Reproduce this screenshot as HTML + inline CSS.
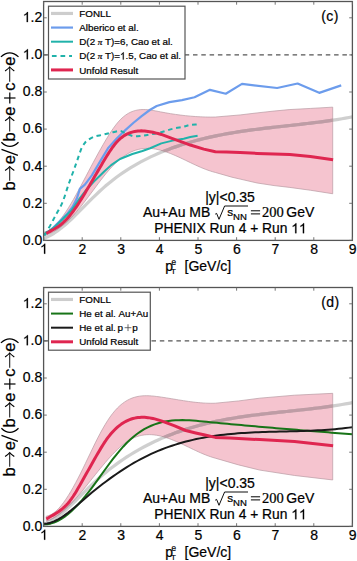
<!DOCTYPE html>
<html><head><meta charset="utf-8"><style>
html,body{margin:0;padding:0;background:#fff;}
svg{display:block;}
text{font-family:"Liberation Sans",sans-serif;fill:#000;font-kerning:none;stroke:#000;stroke-width:0.22px;}
.one{stroke:none;}
.one{fill:transparent;}
.tk{font-size:14px;}
.lg{font-size:9.8px;}
.an{font-size:14px;}
.sub{font-size:9.6px;}
.s12{font-size:11.8px;}
.sub2{font-size:7.9px;}
.sup{font-size:8.2px;}
.ser{font-family:"Liberation Serif",serif;font-size:14.5px;}
.pp{font-size:9.9px;}
.pi{font-family:"Liberation Serif",serif;font-style:italic;font-size:9px;}
.pl{font-size:14px;letter-spacing:0.45px;}
.yl{font-size:16.5px;}
</style></head><body>
<svg width="357" height="561" viewBox="0 0 357 561">
<rect width="357" height="561" fill="#fff"/>
<defs><clipPath id="bctop"><path d="M43.60,232.38 L46.09,231.67 L48.58,230.49 L51.07,228.88 L53.56,226.85 L56.05,224.45 L58.54,221.69 L61.03,218.61 L63.52,215.24 L66.00,211.60 L68.49,207.72 L70.98,203.64 L73.47,199.38 L75.96,194.96 L78.45,190.42 L80.94,185.79 L83.43,181.09 L85.92,176.35 L88.41,171.61 L90.90,166.89 L93.39,162.21 L95.88,157.59 L98.37,153.05 L100.86,148.59 L103.35,144.23 L105.84,139.99 L108.32,135.89 L110.81,131.99 L113.30,128.33 L115.79,124.94 L118.28,121.89 L120.77,119.21 L123.26,116.92 L125.75,114.99 L128.24,113.40 L130.73,112.12 L133.22,111.13 L135.71,110.40 L138.20,109.90 L140.69,109.62 L143.18,109.52 L145.67,109.58 L148.16,109.78 L150.65,110.08 L153.13,110.47 L155.62,110.92 L158.11,111.40 L160.60,111.89 L163.09,112.36 L165.58,112.82 L168.07,113.25 L170.56,113.66 L173.05,114.05 L175.54,114.42 L178.03,114.77 L180.52,115.09 L183.01,115.39 L185.50,115.66 L187.99,115.92 L190.48,116.14 L192.97,116.35 L195.45,116.53 L197.94,116.68 L200.43,116.81 L202.92,116.92 L205.41,116.99 L207.90,117.05 L210.39,117.07 L212.88,117.07 L215.37,117.04 L240.07,114.95 L257.06,112.91 L274.04,111.05 L289.87,109.56 L310.33,108.45 L332.71,107.15 L332.71,193.75 L310.33,190.22 L289.87,187.43 L274.04,185.57 L257.06,182.97 L240.07,179.07 L231.97,177.21 L215.37,172.46 L212.88,171.80 L210.39,171.04 L207.90,170.20 L205.41,169.28 L202.92,168.29 L200.43,167.25 L197.94,166.15 L195.45,165.02 L192.97,163.86 L190.48,162.67 L187.99,161.48 L185.50,160.28 L183.01,159.09 L180.52,157.92 L178.03,156.77 L175.54,155.65 L173.05,154.58 L170.56,153.57 L168.07,152.61 L165.58,151.73 L163.09,150.93 L160.60,150.22 L158.11,149.61 L155.62,149.11 L153.13,148.73 L150.65,148.48 L148.16,148.36 L145.67,148.39 L143.18,148.57 L140.69,148.92 L138.20,149.45 L135.71,150.15 L133.22,151.05 L130.73,152.15 L128.24,153.46 L125.75,154.96 L123.26,156.66 L120.77,158.56 L118.28,160.64 L115.79,162.92 L113.30,165.37 L110.81,168.01 L108.32,170.83 L105.84,173.80 L103.35,176.90 L100.86,180.11 L98.37,183.40 L95.88,186.73 L93.39,190.08 L90.90,193.42 L88.41,196.74 L85.92,200.02 L83.43,203.24 L80.94,206.38 L78.45,209.42 L75.96,212.35 L73.47,215.15 L70.98,217.79 L68.49,220.26 L66.00,222.57 L63.52,224.71 L61.03,226.69 L58.54,228.50 L56.05,230.14 L53.56,231.62 L51.07,232.93 L48.58,234.08 L46.09,235.07 L43.60,235.90 Z"/></clipPath></defs>
<path d="M43.60,232.38 L46.09,231.67 L48.58,230.49 L51.07,228.88 L53.56,226.85 L56.05,224.45 L58.54,221.69 L61.03,218.61 L63.52,215.24 L66.00,211.60 L68.49,207.72 L70.98,203.64 L73.47,199.38 L75.96,194.96 L78.45,190.42 L80.94,185.79 L83.43,181.09 L85.92,176.35 L88.41,171.61 L90.90,166.89 L93.39,162.21 L95.88,157.59 L98.37,153.05 L100.86,148.59 L103.35,144.23 L105.84,139.99 L108.32,135.89 L110.81,131.99 L113.30,128.33 L115.79,124.94 L118.28,121.89 L120.77,119.21 L123.26,116.92 L125.75,114.99 L128.24,113.40 L130.73,112.12 L133.22,111.13 L135.71,110.40 L138.20,109.90 L140.69,109.62 L143.18,109.52 L145.67,109.58 L148.16,109.78 L150.65,110.08 L153.13,110.47 L155.62,110.92 L158.11,111.40 L160.60,111.89 L163.09,112.36 L165.58,112.82 L168.07,113.25 L170.56,113.66 L173.05,114.05 L175.54,114.42 L178.03,114.77 L180.52,115.09 L183.01,115.39 L185.50,115.66 L187.99,115.92 L190.48,116.14 L192.97,116.35 L195.45,116.53 L197.94,116.68 L200.43,116.81 L202.92,116.92 L205.41,116.99 L207.90,117.05 L210.39,117.07 L212.88,117.07 L215.37,117.04 L240.07,114.95 L257.06,112.91 L274.04,111.05 L289.87,109.56 L310.33,108.45 L332.71,107.15 L332.71,193.75 L310.33,190.22 L289.87,187.43 L274.04,185.57 L257.06,182.97 L240.07,179.07 L231.97,177.21 L215.37,172.46 L212.88,171.80 L210.39,171.04 L207.90,170.20 L205.41,169.28 L202.92,168.29 L200.43,167.25 L197.94,166.15 L195.45,165.02 L192.97,163.86 L190.48,162.67 L187.99,161.48 L185.50,160.28 L183.01,159.09 L180.52,157.92 L178.03,156.77 L175.54,155.65 L173.05,154.58 L170.56,153.57 L168.07,152.61 L165.58,151.73 L163.09,150.93 L160.60,150.22 L158.11,149.61 L155.62,149.11 L153.13,148.73 L150.65,148.48 L148.16,148.36 L145.67,148.39 L143.18,148.57 L140.69,148.92 L138.20,149.45 L135.71,150.15 L133.22,151.05 L130.73,152.15 L128.24,153.46 L125.75,154.96 L123.26,156.66 L120.77,158.56 L118.28,160.64 L115.79,162.92 L113.30,165.37 L110.81,168.01 L108.32,170.83 L105.84,173.80 L103.35,176.90 L100.86,180.11 L98.37,183.40 L95.88,186.73 L93.39,190.08 L90.90,193.42 L88.41,196.74 L85.92,200.02 L83.43,203.24 L80.94,206.38 L78.45,209.42 L75.96,212.35 L73.47,215.15 L70.98,217.79 L68.49,220.26 L66.00,222.57 L63.52,224.71 L61.03,226.69 L58.54,228.50 L56.05,230.14 L53.56,231.62 L51.07,232.93 L48.58,234.08 L46.09,235.07 L43.60,235.90 Z" fill="#f5c4cf" stroke="#b89aa2" stroke-width="0.7"/>
<line x1="43.6" y1="54.90" x2="352.40000000000003" y2="54.90" stroke="#555" stroke-width="1.3" stroke-dasharray="4.5,3.8"/>
<path d="M43.60,238.41 L47.07,237.04 L50.54,235.32 L54.01,233.26 L57.48,230.91 L60.95,228.30 L64.42,225.46 L67.89,222.43 L71.36,219.23 L74.83,215.90 L78.30,212.48 L81.77,208.99 L85.24,205.48 L88.71,201.96 L92.18,198.49 L95.64,195.08 L99.11,191.77 L102.58,188.60 L106.05,185.57 L109.52,182.67 L112.99,179.91 L116.46,177.27 L119.93,174.75 L123.40,172.34 L126.87,170.05 L130.34,167.86 L133.81,165.77 L137.28,163.78 L140.75,161.88 L144.22,160.07 L147.69,158.34 L151.16,156.68 L154.63,155.10 L158.10,153.59 L161.57,152.13 L165.04,150.74 L168.51,149.40 L171.98,148.11 L175.45,146.88 L178.92,145.70 L182.39,144.57 L185.86,143.49 L189.33,142.45 L192.80,141.46 L196.27,140.52 L199.73,139.61 L203.20,138.74 L206.67,137.92 L210.14,137.13 L213.61,136.37 L217.08,135.65 L220.55,134.96 L224.02,134.30 L227.49,133.67 L230.96,133.07 L234.43,132.49 L237.90,131.94 L241.37,131.41 L244.84,130.90 L248.31,130.42 L251.78,129.94 L255.25,129.49 L258.72,129.05 L262.19,128.62 L265.66,128.21 L269.13,127.80 L272.60,127.40 L276.07,127.01 L279.54,126.63 L283.01,126.24 L286.48,125.86 L289.95,125.48 L293.42,125.10 L296.89,124.72 L300.36,124.33 L303.82,123.94 L307.29,123.53 L310.76,123.12 L314.23,122.70 L317.70,122.27 L321.17,121.82 L324.64,121.35 L328.11,120.87 L331.58,120.37 L335.05,119.85 L338.52,119.31 L341.99,118.74 L345.46,118.15 L348.93,117.53 L352.40,116.89" fill="none" stroke="rgba(125,125,125,0.37)" stroke-width="3.2" stroke-linejoin="round"/>
<path d="M43.60,238.41 L47.07,237.04 L50.54,235.32 L54.01,233.26 L57.48,230.91 L60.95,228.30 L64.42,225.46 L67.89,222.43 L71.36,219.23 L74.83,215.90 L78.30,212.48 L81.77,208.99 L85.24,205.48 L88.71,201.96 L92.18,198.49 L95.64,195.08 L99.11,191.77 L102.58,188.60 L106.05,185.57 L109.52,182.67 L112.99,179.91 L116.46,177.27 L119.93,174.75 L123.40,172.34 L126.87,170.05 L130.34,167.86 L133.81,165.77 L137.28,163.78 L140.75,161.88 L144.22,160.07 L147.69,158.34 L151.16,156.68 L154.63,155.10 L158.10,153.59 L161.57,152.13 L165.04,150.74 L168.51,149.40 L171.98,148.11 L175.45,146.88 L178.92,145.70 L182.39,144.57 L185.86,143.49 L189.33,142.45 L192.80,141.46 L196.27,140.52 L199.73,139.61 L203.20,138.74 L206.67,137.92 L210.14,137.13 L213.61,136.37 L217.08,135.65 L220.55,134.96 L224.02,134.30 L227.49,133.67 L230.96,133.07 L234.43,132.49 L237.90,131.94 L241.37,131.41 L244.84,130.90 L248.31,130.42 L251.78,129.94 L255.25,129.49 L258.72,129.05 L262.19,128.62 L265.66,128.21 L269.13,127.80 L272.60,127.40 L276.07,127.01 L279.54,126.63 L283.01,126.24 L286.48,125.86 L289.95,125.48 L293.42,125.10 L296.89,124.72 L300.36,124.33 L303.82,123.94 L307.29,123.53 L310.76,123.12 L314.23,122.70 L317.70,122.27 L321.17,121.82 L324.64,121.35 L328.11,120.87 L331.58,120.37 L335.05,119.85 L338.52,119.31 L341.99,118.74 L345.46,118.15 L348.93,117.53 L352.40,116.89" fill="none" stroke="rgb(190,156,165)" stroke-width="3.2" stroke-linejoin="round" clip-path="url(#bctop)"/>
<path d="M43.60,235.20 L51.32,229.62 L60.20,220.89 L66.76,214.38 L72.55,206.95 L76.80,198.58 L79.88,188.92 L84.90,184.65 L91.85,175.35 L101.50,159.18 L108.45,147.66 L116.94,138.18 L125.05,130.38 L133.54,122.76 L141.64,116.07 L150.14,109.75 L156.70,106.03 L169.44,102.13 L181.98,100.08 L194.53,97.30 L209.97,89.86 L225.79,93.76 L242.00,83.91 L277.13,88.00 L297.59,83.54 L319.20,92.84 L341.21,85.40" fill="none" stroke="#6c9cec" stroke-width="2.2" stroke-linejoin="round"/>
<path d="M43.60,234.82 L55.18,226.46 L62.90,219.03 L71.39,210.45 L79.88,198.03 L86.45,189.66 L94.17,181.27 L104.20,171.50 L111.15,165.13 L120.03,159.00 L132.38,153.98 L142.42,151.01 L150.14,148.22 L161.33,143.39 L172.52,140.60 L183.72,138.74 L190.28,137.07 L197.61,135.77" fill="none" stroke="#20b2aa" stroke-width="2.0" stroke-linejoin="round"/>
<path d="M44.76,235.20 C45.21,234.39 46.37,232.32 47.46,230.36 C48.55,228.41 50.10,225.75 51.32,223.49 C52.54,221.23 53.51,219.18 54.79,216.80 C56.08,214.41 57.69,211.75 59.04,209.18 C60.39,206.61 61.36,205.37 62.90,201.37 C64.44,197.38 66.47,190.47 68.30,185.20 C70.14,179.94 72.47,173.74 73.90,169.78 C75.34,165.81 76.01,163.98 76.91,161.41 C77.81,158.84 78.49,156.67 79.31,154.35 C80.12,152.03 80.95,149.30 81.81,147.48 C82.68,145.65 83.62,144.53 84.52,143.39 C85.42,142.24 85.64,141.71 87.22,140.60 C88.80,139.48 91.48,137.66 94.01,136.70 C96.54,135.74 99.71,135.46 102.39,134.84 C105.07,134.22 107.30,133.63 110.11,132.98 C112.92,132.33 116.74,130.93 119.26,130.93 C121.77,130.93 122.85,132.11 125.20,132.98 C127.56,133.85 130.62,135.67 133.38,136.14 C136.15,136.60 138.99,136.05 141.80,135.77 C144.60,135.49 146.98,135.05 150.21,134.47 C153.45,133.88 157.52,133.16 161.21,132.24 C164.91,131.31 168.68,129.82 172.41,128.89 C176.14,127.96 180.67,127.31 183.60,126.66 C186.54,126.01 187.80,125.36 190.01,124.99 C192.22,124.62 195.70,124.52 196.84,124.43" fill="none" stroke="#20b2aa" stroke-width="2.0" stroke-linejoin="round" stroke-dasharray="4.5,3.7"/>
<path d="M46.30,233.57 L47.97,232.56 L49.64,231.61 L51.30,230.68 L52.97,229.75 L54.64,228.80 L56.30,227.79 L57.97,226.71 L59.64,225.53 L61.31,224.23 L62.97,222.78 L64.64,221.21 L66.31,219.51 L67.97,217.69 L69.64,215.74 L71.31,213.68 L72.98,211.51 L74.64,209.23 L76.31,206.84 L77.98,204.36 L79.64,201.78 L81.31,199.13 L82.98,196.42 L84.64,193.65 L86.31,190.85 L87.98,188.01 L89.65,185.16 L91.31,182.31 L92.98,179.45 L94.65,176.60 L96.31,173.74 L97.98,170.88 L99.65,168.02 L101.32,165.17 L102.98,162.34 L104.65,159.53 L106.32,156.78 L107.98,154.11 L109.65,151.53 L111.32,149.07 L112.98,146.74 L114.65,144.56 L116.32,142.56 L117.99,140.76 L119.65,139.15 L121.32,137.72 L122.99,136.47 L124.65,135.37 L126.32,134.42 L127.99,133.61 L129.66,132.92 L131.32,132.34 L132.99,131.87 L134.66,131.49 L136.32,131.21 L137.99,131.02 L139.66,130.91 L141.33,130.87 L142.99,130.91 L144.66,131.01 L146.33,131.18 L147.99,131.39 L149.66,131.66 L151.33,131.97 L152.99,132.32 L154.66,132.70 L156.33,133.11 L158.00,133.54 L159.66,133.99 L161.33,134.44 L172.52,138.55 L183.72,142.64 L190.28,145.06 L203.79,149.15 L215.37,151.75 L226.56,152.12 L240.07,152.49 L257.06,153.42 L274.04,153.98 L289.87,154.54 L310.33,156.40 L333.10,159.74" fill="none" stroke="#df2650" stroke-width="3.0" stroke-linejoin="round"/>
<rect x="43.6" y="1.5" width="308.80" height="238.90" fill="none" stroke="#555" stroke-width="1.3"/>
<line x1="43.60" y1="240.4" x2="43.60" y2="237.20000000000002" stroke="#666" stroke-width="0.9"/>
<line x1="43.60" y1="1.5" x2="43.60" y2="4.7" stroke="#666" stroke-width="0.9"/>
<line x1="82.20" y1="240.4" x2="82.20" y2="237.20000000000002" stroke="#666" stroke-width="0.9"/>
<line x1="82.20" y1="1.5" x2="82.20" y2="4.7" stroke="#666" stroke-width="0.9"/>
<line x1="120.80" y1="240.4" x2="120.80" y2="237.20000000000002" stroke="#666" stroke-width="0.9"/>
<line x1="120.80" y1="1.5" x2="120.80" y2="4.7" stroke="#666" stroke-width="0.9"/>
<line x1="159.40" y1="240.4" x2="159.40" y2="237.20000000000002" stroke="#666" stroke-width="0.9"/>
<line x1="159.40" y1="1.5" x2="159.40" y2="4.7" stroke="#666" stroke-width="0.9"/>
<line x1="198.00" y1="240.4" x2="198.00" y2="237.20000000000002" stroke="#666" stroke-width="0.9"/>
<line x1="198.00" y1="1.5" x2="198.00" y2="4.7" stroke="#666" stroke-width="0.9"/>
<line x1="236.60" y1="240.4" x2="236.60" y2="237.20000000000002" stroke="#666" stroke-width="0.9"/>
<line x1="236.60" y1="1.5" x2="236.60" y2="4.7" stroke="#666" stroke-width="0.9"/>
<line x1="275.20" y1="240.4" x2="275.20" y2="237.20000000000002" stroke="#666" stroke-width="0.9"/>
<line x1="275.20" y1="1.5" x2="275.20" y2="4.7" stroke="#666" stroke-width="0.9"/>
<line x1="313.80" y1="240.4" x2="313.80" y2="237.20000000000002" stroke="#666" stroke-width="0.9"/>
<line x1="313.80" y1="1.5" x2="313.80" y2="4.7" stroke="#666" stroke-width="0.9"/>
<line x1="352.40" y1="240.4" x2="352.40" y2="237.20000000000002" stroke="#666" stroke-width="0.9"/>
<line x1="352.40" y1="1.5" x2="352.40" y2="4.7" stroke="#666" stroke-width="0.9"/>
<line x1="43.6" y1="240.40" x2="46.800000000000004" y2="240.40" stroke="#666" stroke-width="0.9"/>
<line x1="349.20" y1="240.40" x2="352.40" y2="240.40" stroke="#666" stroke-width="0.9"/>
<line x1="43.6" y1="203.30" x2="46.800000000000004" y2="203.30" stroke="#666" stroke-width="0.9"/>
<line x1="349.20" y1="203.30" x2="352.40" y2="203.30" stroke="#666" stroke-width="0.9"/>
<line x1="43.6" y1="166.20" x2="46.800000000000004" y2="166.20" stroke="#666" stroke-width="0.9"/>
<line x1="349.20" y1="166.20" x2="352.40" y2="166.20" stroke="#666" stroke-width="0.9"/>
<line x1="43.6" y1="129.10" x2="46.800000000000004" y2="129.10" stroke="#666" stroke-width="0.9"/>
<line x1="349.20" y1="129.10" x2="352.40" y2="129.10" stroke="#666" stroke-width="0.9"/>
<line x1="43.6" y1="92.00" x2="46.800000000000004" y2="92.00" stroke="#666" stroke-width="0.9"/>
<line x1="349.20" y1="92.00" x2="352.40" y2="92.00" stroke="#666" stroke-width="0.9"/>
<line x1="43.6" y1="54.90" x2="46.800000000000004" y2="54.90" stroke="#666" stroke-width="0.9"/>
<line x1="349.20" y1="54.90" x2="352.40" y2="54.90" stroke="#666" stroke-width="0.9"/>
<line x1="43.6" y1="17.80" x2="46.800000000000004" y2="17.80" stroke="#666" stroke-width="0.9"/>
<line x1="349.20" y1="17.80" x2="352.40" y2="17.80" stroke="#666" stroke-width="0.9"/>
<text x="42.2" y="244.70" text-anchor="end" class="tk">0.0</text>
<text x="42.2" y="207.60" text-anchor="end" class="tk">0.2</text>
<text x="42.2" y="170.50" text-anchor="end" class="tk">0.4</text>
<text x="42.2" y="133.40" text-anchor="end" class="tk">0.6</text>
<text x="42.2" y="96.30" text-anchor="end" class="tk">0.8</text>
<text x="42.2" y="59.20" text-anchor="end" class="tk"><tspan class="one">1</tspan>.0</text>
<text x="42.2" y="22.10" text-anchor="end" class="tk"><tspan class="one">1</tspan>.2</text>
<text x="43.90" y="253.70" text-anchor="middle" class="tk"><tspan class="one">1</tspan></text>
<text x="82.50" y="253.70" text-anchor="middle" class="tk">2</text>
<text x="121.10" y="253.70" text-anchor="middle" class="tk">3</text>
<text x="159.70" y="253.70" text-anchor="middle" class="tk">4</text>
<text x="198.30" y="253.70" text-anchor="middle" class="tk">5</text>
<text x="236.90" y="253.70" text-anchor="middle" class="tk">6</text>
<text x="275.50" y="253.70" text-anchor="middle" class="tk">7</text>
<text x="314.10" y="253.70" text-anchor="middle" class="tk">8</text>
<text x="352.70" y="253.70" text-anchor="middle" class="tk">9</text>
<rect x="48.5" y="6.2" width="136.5" height="72.8" fill="#fff" stroke="#555" stroke-width="1.2"/>
<line x1="51" y1="13.45" x2="73" y2="13.45" stroke="#cdcdcd" stroke-width="3.2"/>
<text x="79.3" y="17.05" class="lg">FONLL</text>
<line x1="51" y1="27.57" x2="73" y2="27.57" stroke="#6c9cec" stroke-width="2.2"/>
<text x="79.3" y="31.17" class="lg">Alberico et al.</text>
<line x1="51" y1="41.69" x2="73" y2="41.69" stroke="#20b2aa" stroke-width="2.0"/>
<text x="79.3" y="45.29" class="lg">D(2 <tspan class="pi">π</tspan> T)=6, Cao et al.</text>
<line x1="51.9" y1="56.11" x2="72" y2="56.11" stroke="#20b2aa" stroke-width="2.0" stroke-dasharray="4.7,3.9"/>
<text x="79.3" y="59.41" class="lg">D(2 <tspan class="pi">π</tspan> T)=<tspan class="one">1</tspan>.5, Cao et al.</text>
<line x1="51" y1="69.93" x2="73" y2="69.93" stroke="#df2650" stroke-width="3.0"/>
<text x="79.3" y="73.53" class="lg">Unfold Result</text>
<text x="205.2" y="201.5" class="an">|y|&lt;0.35</text>
<text x="143.0" y="217.3" class="an">Au+Au MB</text>
<path d="M215.2,214.2 L216.6,213.4 L219.0,219.3 L224.6,206.0 L248.0,206.0" fill="none" stroke="#000" stroke-width="0.95" stroke-linejoin="miter"/>
<text x="227.2" y="216.4" class="s12">s</text>
<text x="233.0" y="220.2" class="sub">NN</text>
<path d="M250.9,210.8 H260.1 M250.9,213.9 H260.1" stroke="#000" stroke-width="1.0"/>
<text x="262.0" y="216.9" class="ser">200</text>
<text x="286.3" y="217.3" class="an">GeV</text>
<text x="154.2" y="233.2" class="an" style="font-size:13.82px">PHENIX Run 4 + Run <tspan class="one">1</tspan><tspan class="one">1</tspan></text>
<text x="321.2" y="20.9" class="pl">(c)</text>
<text x="165.2" y="270.5" class="an">p</text><text x="171.0" y="273.5" class="sub2">T</text><text x="171.5" y="264.6" class="sup">e</text><text x="184.5" y="270.5" class="an">[GeV/c]</text>
<g transform="translate(14.5,190.0) rotate(-90)"><text x="-0.46" y="0" class="yl">b</text><line x1="9.3" y1="-4.8" x2="22.7" y2="-4.8" stroke="#1a1a1a" stroke-width="1.05"/><path d="M19.400000000000002,-9.399999999999999 Q21.7,-6.0 23.3,-4.8 Q21.7,-3.5999999999999996 19.400000000000002,-0.20000000000000018" fill="none" stroke="#000" stroke-width="1.15"/><text x="25.81" y="0" class="yl">e</text><line x1="34.6" y1="3.4" x2="40.6" y2="-13.0" stroke="#000" stroke-width="1.3"/><text x="48.64" y="0" class="yl">b</text><line x1="58.5" y1="-4.8" x2="72.60000000000001" y2="-4.8" stroke="#1a1a1a" stroke-width="1.05"/><path d="M69.3,-9.399999999999999 Q71.60000000000001,-6.0 73.2,-4.8 Q71.60000000000001,-3.5999999999999996 69.3,-0.20000000000000018" fill="none" stroke="#000" stroke-width="1.15"/><text x="74.31" y="0" class="yl">e</text><line x1="86.6" y1="-4.7" x2="97.4" y2="-4.7" stroke="#000" stroke-width="1.2"/><line x1="92.0" y1="-10.4" x2="92.0" y2="1.0" stroke="#000" stroke-width="1.2"/><text x="99.31" y="0" class="yl">c</text><line x1="108.3" y1="-4.8" x2="122.4" y2="-4.8" stroke="#1a1a1a" stroke-width="1.05"/><path d="M119.1,-9.399999999999999 Q121.4,-6.0 123.0,-4.8 Q121.4,-3.5999999999999996 119.1,-0.20000000000000018" fill="none" stroke="#000" stroke-width="1.15"/><text x="124.31" y="0" class="yl">e</text></g><path d="M0.9,56.9 Q9.7,48.9 18.5,56.9" fill="none" stroke="#000" stroke-width="1.25"/><path d="M1.4,142.2 Q9.9,150.4 18.5,142.2" fill="none" stroke="#000" stroke-width="1.25"/>
<defs><clipPath id="bcbot"><path d="M46.30,516.20 L48.75,515.61 L51.20,514.52 L53.65,512.97 L56.10,510.98 L58.55,508.58 L61.00,505.80 L63.45,502.67 L65.90,499.21 L68.35,495.45 L70.80,491.42 L73.25,487.15 L75.71,482.67 L78.16,478.01 L80.61,473.18 L83.06,468.23 L85.51,463.18 L87.96,458.07 L90.41,452.95 L92.86,447.86 L95.31,442.85 L97.76,437.98 L100.21,433.29 L102.66,428.82 L105.11,424.61 L107.56,420.67 L110.01,417.03 L112.46,413.71 L114.91,410.72 L117.36,408.06 L119.81,405.71 L122.26,403.67 L124.71,401.90 L127.16,400.39 L129.61,399.13 L132.06,398.10 L134.51,397.27 L136.96,396.64 L139.41,396.19 L141.86,395.89 L144.31,395.74 L146.76,395.71 L149.21,395.78 L151.66,395.94 L154.11,396.18 L156.56,396.47 L159.01,396.79 L161.46,397.14 L163.91,397.51 L166.36,397.89 L168.82,398.28 L171.27,398.68 L173.72,399.09 L176.17,399.49 L178.62,399.90 L181.07,400.29 L183.52,400.68 L185.97,401.05 L188.42,401.41 L190.87,401.74 L193.32,402.05 L195.77,402.34 L198.22,402.59 L200.67,402.81 L203.12,402.99 L205.57,403.13 L208.02,403.23 L210.47,403.27 L212.92,403.27 L215.37,403.21 L238.53,400.95 L259.76,398.16 L294.50,395.19 L332.71,393.33 L332.71,479.94 L294.50,475.48 L259.76,470.09 L238.53,464.88 L215.37,458.18 L212.92,457.48 L210.47,456.70 L208.02,455.83 L205.57,454.89 L203.12,453.89 L200.67,452.84 L198.22,451.75 L195.77,450.62 L193.32,449.47 L190.87,448.30 L188.42,447.12 L185.97,445.95 L183.52,444.78 L181.07,443.64 L178.62,442.52 L176.17,441.44 L173.72,440.41 L171.27,439.43 L168.82,438.52 L166.36,437.68 L163.91,436.93 L161.46,436.26 L159.01,435.70 L156.56,435.24 L154.11,434.90 L151.66,434.69 L149.21,434.62 L146.76,434.69 L144.31,434.91 L141.86,435.30 L139.41,435.86 L136.96,436.60 L134.51,437.53 L132.06,438.66 L129.61,439.99 L127.16,441.54 L124.71,443.29 L122.26,445.22 L119.81,447.32 L117.36,449.58 L114.91,451.98 L112.46,454.51 L110.01,457.16 L107.56,459.91 L105.11,462.75 L102.66,465.66 L100.21,468.63 L97.76,471.65 L95.31,474.70 L92.86,477.76 L90.41,480.84 L87.96,483.90 L85.51,486.94 L83.06,489.95 L80.61,492.90 L78.16,495.79 L75.71,498.60 L73.25,501.32 L70.80,503.93 L68.35,506.42 L65.90,508.78 L63.45,510.99 L61.00,513.04 L58.55,514.92 L56.10,516.60 L53.65,518.09 L51.20,519.35 L48.75,520.39 L46.30,521.18 Z"/></clipPath></defs>
<path d="M46.30,516.20 L48.75,515.61 L51.20,514.52 L53.65,512.97 L56.10,510.98 L58.55,508.58 L61.00,505.80 L63.45,502.67 L65.90,499.21 L68.35,495.45 L70.80,491.42 L73.25,487.15 L75.71,482.67 L78.16,478.01 L80.61,473.18 L83.06,468.23 L85.51,463.18 L87.96,458.07 L90.41,452.95 L92.86,447.86 L95.31,442.85 L97.76,437.98 L100.21,433.29 L102.66,428.82 L105.11,424.61 L107.56,420.67 L110.01,417.03 L112.46,413.71 L114.91,410.72 L117.36,408.06 L119.81,405.71 L122.26,403.67 L124.71,401.90 L127.16,400.39 L129.61,399.13 L132.06,398.10 L134.51,397.27 L136.96,396.64 L139.41,396.19 L141.86,395.89 L144.31,395.74 L146.76,395.71 L149.21,395.78 L151.66,395.94 L154.11,396.18 L156.56,396.47 L159.01,396.79 L161.46,397.14 L163.91,397.51 L166.36,397.89 L168.82,398.28 L171.27,398.68 L173.72,399.09 L176.17,399.49 L178.62,399.90 L181.07,400.29 L183.52,400.68 L185.97,401.05 L188.42,401.41 L190.87,401.74 L193.32,402.05 L195.77,402.34 L198.22,402.59 L200.67,402.81 L203.12,402.99 L205.57,403.13 L208.02,403.23 L210.47,403.27 L212.92,403.27 L215.37,403.21 L238.53,400.95 L259.76,398.16 L294.50,395.19 L332.71,393.33 L332.71,479.94 L294.50,475.48 L259.76,470.09 L238.53,464.88 L215.37,458.18 L212.92,457.48 L210.47,456.70 L208.02,455.83 L205.57,454.89 L203.12,453.89 L200.67,452.84 L198.22,451.75 L195.77,450.62 L193.32,449.47 L190.87,448.30 L188.42,447.12 L185.97,445.95 L183.52,444.78 L181.07,443.64 L178.62,442.52 L176.17,441.44 L173.72,440.41 L171.27,439.43 L168.82,438.52 L166.36,437.68 L163.91,436.93 L161.46,436.26 L159.01,435.70 L156.56,435.24 L154.11,434.90 L151.66,434.69 L149.21,434.62 L146.76,434.69 L144.31,434.91 L141.86,435.30 L139.41,435.86 L136.96,436.60 L134.51,437.53 L132.06,438.66 L129.61,439.99 L127.16,441.54 L124.71,443.29 L122.26,445.22 L119.81,447.32 L117.36,449.58 L114.91,451.98 L112.46,454.51 L110.01,457.16 L107.56,459.91 L105.11,462.75 L102.66,465.66 L100.21,468.63 L97.76,471.65 L95.31,474.70 L92.86,477.76 L90.41,480.84 L87.96,483.90 L85.51,486.94 L83.06,489.95 L80.61,492.90 L78.16,495.79 L75.71,498.60 L73.25,501.32 L70.80,503.93 L68.35,506.42 L65.90,508.78 L63.45,510.99 L61.00,513.04 L58.55,514.92 L56.10,516.60 L53.65,518.09 L51.20,519.35 L48.75,520.39 L46.30,521.18 Z" fill="#f5c4cf" stroke="#b89aa2" stroke-width="0.7"/>
<line x1="43.6" y1="340.90" x2="352.40000000000003" y2="340.90" stroke="#555" stroke-width="1.3" stroke-dasharray="4.5,3.8"/>
<path d="M43.60,524.16 L47.07,522.89 L50.54,521.22 L54.01,519.18 L57.48,516.82 L60.95,514.17 L64.42,511.28 L67.89,508.18 L71.36,504.93 L74.83,501.56 L78.30,498.12 L81.77,494.63 L85.24,491.15 L88.71,487.72 L92.18,484.38 L95.64,481.15 L99.11,478.04 L102.58,475.04 L106.05,472.15 L109.52,469.37 L112.99,466.69 L116.46,464.11 L119.93,461.64 L123.40,459.25 L126.87,456.96 L130.34,454.76 L133.81,452.64 L137.28,450.60 L140.75,448.65 L144.22,446.77 L147.69,444.96 L151.16,443.22 L154.63,441.55 L158.10,439.95 L161.57,438.41 L165.04,436.93 L168.51,435.52 L171.98,434.16 L175.45,432.87 L178.92,431.63 L182.39,430.44 L185.86,429.30 L189.33,428.22 L192.80,427.19 L196.27,426.20 L199.73,425.26 L203.20,424.36 L206.67,423.50 L210.14,422.69 L213.61,421.91 L217.08,421.17 L220.55,420.47 L224.02,419.80 L227.49,419.16 L230.96,418.55 L234.43,417.97 L237.90,417.41 L241.37,416.88 L244.84,416.37 L248.31,415.89 L251.78,415.42 L255.25,414.98 L258.72,414.54 L262.19,414.13 L265.66,413.72 L269.13,413.33 L272.60,412.94 L276.07,412.57 L279.54,412.20 L283.01,411.83 L286.48,411.47 L289.95,411.10 L293.42,410.74 L296.89,410.37 L300.36,409.99 L303.82,409.62 L307.29,409.23 L310.76,408.83 L314.23,408.42 L317.70,408.00 L321.17,407.56 L324.64,407.11 L328.11,406.64 L331.58,406.15 L335.05,405.63 L338.52,405.09 L341.99,404.53 L345.46,403.94 L348.93,403.32 L352.40,402.67" fill="none" stroke="rgba(125,125,125,0.37)" stroke-width="3.2" stroke-linejoin="round"/>
<path d="M43.60,524.16 L47.07,522.89 L50.54,521.22 L54.01,519.18 L57.48,516.82 L60.95,514.17 L64.42,511.28 L67.89,508.18 L71.36,504.93 L74.83,501.56 L78.30,498.12 L81.77,494.63 L85.24,491.15 L88.71,487.72 L92.18,484.38 L95.64,481.15 L99.11,478.04 L102.58,475.04 L106.05,472.15 L109.52,469.37 L112.99,466.69 L116.46,464.11 L119.93,461.64 L123.40,459.25 L126.87,456.96 L130.34,454.76 L133.81,452.64 L137.28,450.60 L140.75,448.65 L144.22,446.77 L147.69,444.96 L151.16,443.22 L154.63,441.55 L158.10,439.95 L161.57,438.41 L165.04,436.93 L168.51,435.52 L171.98,434.16 L175.45,432.87 L178.92,431.63 L182.39,430.44 L185.86,429.30 L189.33,428.22 L192.80,427.19 L196.27,426.20 L199.73,425.26 L203.20,424.36 L206.67,423.50 L210.14,422.69 L213.61,421.91 L217.08,421.17 L220.55,420.47 L224.02,419.80 L227.49,419.16 L230.96,418.55 L234.43,417.97 L237.90,417.41 L241.37,416.88 L244.84,416.37 L248.31,415.89 L251.78,415.42 L255.25,414.98 L258.72,414.54 L262.19,414.13 L265.66,413.72 L269.13,413.33 L272.60,412.94 L276.07,412.57 L279.54,412.20 L283.01,411.83 L286.48,411.47 L289.95,411.10 L293.42,410.74 L296.89,410.37 L300.36,409.99 L303.82,409.62 L307.29,409.23 L310.76,408.83 L314.23,408.42 L317.70,408.00 L321.17,407.56 L324.64,407.11 L328.11,406.64 L331.58,406.15 L335.05,405.63 L338.52,405.09 L341.99,404.53 L345.46,403.94 L348.93,403.32 L352.40,402.67" fill="none" stroke="rgb(190,156,165)" stroke-width="3.2" stroke-linejoin="round" clip-path="url(#bcbot)"/>
<path d="M43.60,524.25 L47.07,524.21 L50.54,523.66 L54.01,522.63 L57.48,521.14 L60.95,519.23 L64.42,516.92 L67.89,514.24 L71.36,511.22 L74.83,507.87 L78.30,504.23 L81.77,500.33 L85.24,496.19 L88.71,491.84 L92.18,487.31 L95.64,482.62 L99.11,477.85 L102.58,473.03 L106.05,468.24 L109.52,463.53 L112.99,458.95 L116.46,454.56 L119.93,450.39 L123.40,446.46 L126.87,442.81 L130.34,439.46 L133.81,436.44 L137.28,433.73 L140.75,431.32 L144.22,429.20 L147.69,427.34 L151.16,425.74 L154.63,424.37 L158.10,423.23 L161.57,422.29 L165.04,421.54 L168.51,420.97 L171.98,420.55 L175.45,420.29 L178.92,420.15 L182.39,420.12 L185.86,420.19 L189.33,420.35 L192.80,420.57 L196.27,420.85 L199.73,421.16 L203.20,421.49 L206.67,421.83 L210.14,422.16 L213.61,422.49 L217.08,422.82 L220.55,423.15 L224.02,423.48 L227.49,423.80 L230.96,424.13 L234.43,424.45 L237.90,424.76 L241.37,425.08 L244.84,425.39 L248.31,425.70 L251.78,426.01 L255.25,426.32 L258.72,426.63 L262.19,426.93 L265.66,427.23 L269.13,427.53 L272.60,427.83 L276.07,428.13 L279.54,428.42 L283.01,428.71 L286.48,429.01 L289.95,429.29 L293.42,429.58 L296.89,429.87 L300.36,430.15 L303.82,430.44 L307.29,430.72 L310.76,431.00 L314.23,431.27 L317.70,431.55 L321.17,431.83 L324.64,432.10 L328.11,432.37 L331.58,432.64 L335.05,432.91 L338.52,433.18 L341.99,433.45 L345.46,433.72 L348.93,433.98 L352.40,434.24" fill="none" stroke="#187418" stroke-width="2.0" stroke-linejoin="round"/>
<path d="M43.60,523.70 L47.07,523.44 L50.54,522.66 L54.01,521.41 L57.48,519.75 L60.95,517.73 L64.42,515.41 L67.89,512.85 L71.36,510.08 L74.83,507.18 L78.30,504.19 L81.77,501.17 L85.24,498.16 L88.71,495.22 L92.18,492.33 L95.64,489.51 L99.11,486.75 L102.58,484.06 L106.05,481.43 L109.52,478.87 L112.99,476.38 L116.46,473.96 L119.93,471.61 L123.40,469.33 L126.87,467.13 L130.34,465.01 L133.81,462.96 L137.28,461.00 L140.75,459.11 L144.22,457.31 L147.69,455.59 L151.16,453.95 L154.63,452.39 L158.10,450.91 L161.57,449.50 L165.04,448.16 L168.51,446.90 L171.98,445.71 L175.45,444.58 L178.92,443.52 L182.39,442.52 L185.86,441.58 L189.33,440.70 L192.80,439.87 L196.27,439.10 L199.73,438.38 L203.20,437.72 L206.67,437.10 L210.14,436.53 L213.61,436.00 L217.08,435.51 L220.55,435.06 L224.02,434.65 L227.49,434.28 L230.96,433.94 L234.43,433.63 L237.90,433.35 L241.37,433.10 L244.84,432.88 L248.31,432.67 L251.78,432.49 L255.25,432.33 L258.72,432.19 L262.19,432.06 L265.66,431.94 L269.13,431.83 L272.60,431.74 L276.07,431.65 L279.54,431.56 L283.01,431.48 L286.48,431.39 L289.95,431.31 L293.42,431.22 L296.89,431.13 L300.36,431.03 L303.82,430.91 L307.29,430.79 L310.76,430.65 L314.23,430.50 L317.70,430.33 L321.17,430.14 L324.64,429.92 L328.11,429.68 L331.58,429.42 L335.05,429.13 L338.52,428.80 L341.99,428.45 L345.46,428.05 L348.93,427.63 L352.40,427.16" fill="none" stroke="#1a1a1a" stroke-width="2.0" stroke-linejoin="round"/>
<path d="M46.42,519.11 L48.08,518.07 L49.75,517.06 L51.41,516.08 L53.08,515.10 L54.74,514.10 L56.41,513.07 L58.08,511.97 L59.74,510.81 L61.41,509.54 L63.07,508.17 L64.74,506.66 L66.40,505.01 L68.07,503.18 L69.73,501.17 L71.40,498.94 L73.06,496.52 L74.73,493.93 L76.39,491.19 L78.06,488.36 L79.73,485.45 L81.39,482.51 L83.06,479.55 L84.72,476.58 L86.39,473.61 L88.05,470.63 L89.72,467.66 L91.38,464.69 L93.05,461.73 L94.71,458.79 L96.38,455.87 L98.05,452.98 L99.71,450.14 L101.38,447.38 L103.04,444.70 L104.71,442.15 L106.37,439.73 L108.04,437.45 L109.70,435.32 L111.37,433.33 L113.03,431.47 L114.70,429.75 L116.36,428.15 L118.03,426.68 L119.70,425.34 L121.36,424.11 L123.03,422.99 L124.69,421.99 L126.36,421.10 L128.02,420.31 L129.69,419.61 L131.35,419.02 L133.02,418.52 L134.68,418.11 L136.35,417.79 L138.01,417.55 L139.68,417.39 L141.35,417.30 L143.01,417.29 L144.68,417.34 L146.34,417.46 L148.01,417.64 L149.67,417.88 L151.34,418.18 L153.00,418.52 L154.67,418.91 L156.33,419.35 L158.00,419.82 L159.66,420.34 L161.33,420.88 L174.07,425.67 L185.65,430.50 L195.68,432.92 L204.95,434.96 L215.37,437.38 L230.04,437.94 L259.76,439.61 L294.50,441.47 L333.10,445.74" fill="none" stroke="#df2650" stroke-width="3.0" stroke-linejoin="round"/>
<rect x="43.6" y="287.5" width="308.80" height="238.90" fill="none" stroke="#555" stroke-width="1.3"/>
<line x1="43.60" y1="526.4" x2="43.60" y2="523.1999999999999" stroke="#666" stroke-width="0.9"/>
<line x1="43.60" y1="287.5" x2="43.60" y2="290.7" stroke="#666" stroke-width="0.9"/>
<line x1="82.20" y1="526.4" x2="82.20" y2="523.1999999999999" stroke="#666" stroke-width="0.9"/>
<line x1="82.20" y1="287.5" x2="82.20" y2="290.7" stroke="#666" stroke-width="0.9"/>
<line x1="120.80" y1="526.4" x2="120.80" y2="523.1999999999999" stroke="#666" stroke-width="0.9"/>
<line x1="120.80" y1="287.5" x2="120.80" y2="290.7" stroke="#666" stroke-width="0.9"/>
<line x1="159.40" y1="526.4" x2="159.40" y2="523.1999999999999" stroke="#666" stroke-width="0.9"/>
<line x1="159.40" y1="287.5" x2="159.40" y2="290.7" stroke="#666" stroke-width="0.9"/>
<line x1="198.00" y1="526.4" x2="198.00" y2="523.1999999999999" stroke="#666" stroke-width="0.9"/>
<line x1="198.00" y1="287.5" x2="198.00" y2="290.7" stroke="#666" stroke-width="0.9"/>
<line x1="236.60" y1="526.4" x2="236.60" y2="523.1999999999999" stroke="#666" stroke-width="0.9"/>
<line x1="236.60" y1="287.5" x2="236.60" y2="290.7" stroke="#666" stroke-width="0.9"/>
<line x1="275.20" y1="526.4" x2="275.20" y2="523.1999999999999" stroke="#666" stroke-width="0.9"/>
<line x1="275.20" y1="287.5" x2="275.20" y2="290.7" stroke="#666" stroke-width="0.9"/>
<line x1="313.80" y1="526.4" x2="313.80" y2="523.1999999999999" stroke="#666" stroke-width="0.9"/>
<line x1="313.80" y1="287.5" x2="313.80" y2="290.7" stroke="#666" stroke-width="0.9"/>
<line x1="352.40" y1="526.4" x2="352.40" y2="523.1999999999999" stroke="#666" stroke-width="0.9"/>
<line x1="352.40" y1="287.5" x2="352.40" y2="290.7" stroke="#666" stroke-width="0.9"/>
<line x1="43.6" y1="526.40" x2="46.800000000000004" y2="526.40" stroke="#666" stroke-width="0.9"/>
<line x1="349.20" y1="526.40" x2="352.40" y2="526.40" stroke="#666" stroke-width="0.9"/>
<line x1="43.6" y1="489.30" x2="46.800000000000004" y2="489.30" stroke="#666" stroke-width="0.9"/>
<line x1="349.20" y1="489.30" x2="352.40" y2="489.30" stroke="#666" stroke-width="0.9"/>
<line x1="43.6" y1="452.20" x2="46.800000000000004" y2="452.20" stroke="#666" stroke-width="0.9"/>
<line x1="349.20" y1="452.20" x2="352.40" y2="452.20" stroke="#666" stroke-width="0.9"/>
<line x1="43.6" y1="415.10" x2="46.800000000000004" y2="415.10" stroke="#666" stroke-width="0.9"/>
<line x1="349.20" y1="415.10" x2="352.40" y2="415.10" stroke="#666" stroke-width="0.9"/>
<line x1="43.6" y1="378.00" x2="46.800000000000004" y2="378.00" stroke="#666" stroke-width="0.9"/>
<line x1="349.20" y1="378.00" x2="352.40" y2="378.00" stroke="#666" stroke-width="0.9"/>
<line x1="43.6" y1="340.90" x2="46.800000000000004" y2="340.90" stroke="#666" stroke-width="0.9"/>
<line x1="349.20" y1="340.90" x2="352.40" y2="340.90" stroke="#666" stroke-width="0.9"/>
<line x1="43.6" y1="303.80" x2="46.800000000000004" y2="303.80" stroke="#666" stroke-width="0.9"/>
<line x1="349.20" y1="303.80" x2="352.40" y2="303.80" stroke="#666" stroke-width="0.9"/>
<text x="42.2" y="530.70" text-anchor="end" class="tk">0.0</text>
<text x="42.2" y="493.60" text-anchor="end" class="tk">0.2</text>
<text x="42.2" y="456.50" text-anchor="end" class="tk">0.4</text>
<text x="42.2" y="419.40" text-anchor="end" class="tk">0.6</text>
<text x="42.2" y="382.30" text-anchor="end" class="tk">0.8</text>
<text x="42.2" y="345.20" text-anchor="end" class="tk"><tspan class="one">1</tspan>.0</text>
<text x="42.2" y="308.10" text-anchor="end" class="tk"><tspan class="one">1</tspan>.2</text>
<text x="43.90" y="539.70" text-anchor="middle" class="tk"><tspan class="one">1</tspan></text>
<text x="82.50" y="539.70" text-anchor="middle" class="tk">2</text>
<text x="121.10" y="539.70" text-anchor="middle" class="tk">3</text>
<text x="159.70" y="539.70" text-anchor="middle" class="tk">4</text>
<text x="198.30" y="539.70" text-anchor="middle" class="tk">5</text>
<text x="236.90" y="539.70" text-anchor="middle" class="tk">6</text>
<text x="275.50" y="539.70" text-anchor="middle" class="tk">7</text>
<text x="314.10" y="539.70" text-anchor="middle" class="tk">8</text>
<text x="352.70" y="539.70" text-anchor="middle" class="tk">9</text>
<rect x="48.5" y="292.2" width="101.8" height="58.0" fill="#fff" stroke="#555" stroke-width="1.2"/>
<line x1="51" y1="299.45" x2="73" y2="299.45" stroke="#cdcdcd" stroke-width="3.2"/>
<text x="79.3" y="303.05" class="lg">FONLL</text>
<line x1="51" y1="313.57" x2="73" y2="313.57" stroke="#187418" stroke-width="2.0"/>
<text x="79.3" y="317.17" class="lg">He et al. Au+Au</text>
<line x1="51" y1="327.69" x2="73" y2="327.69" stroke="#1a1a1a" stroke-width="2.0"/>
<text x="79.3" y="331.29" class="lg">He et al.</text>
<text x="117.5" y="331.29" class="pp">p</text><text x="132.2" y="331.29" class="pp">p</text>
<path d="M124.6,327.69 H131.4 M128,324.29 V331.09" stroke="#444" stroke-width="0.8"/>
<line x1="51" y1="341.81" x2="73" y2="341.81" stroke="#df2650" stroke-width="3.0"/>
<text x="79.3" y="345.41" class="lg">Unfold Result</text>
<text x="205.2" y="487.5" class="an">|y|&lt;0.35</text>
<text x="143.0" y="503.3" class="an">Au+Au MB</text>
<path d="M215.2,500.2 L216.6,499.4 L219.0,505.3 L224.6,492.0 L248.0,492.0" fill="none" stroke="#000" stroke-width="0.95" stroke-linejoin="miter"/>
<text x="227.2" y="502.4" class="s12">s</text>
<text x="233.0" y="506.2" class="sub">NN</text>
<path d="M250.9,496.8 H260.1 M250.9,499.9 H260.1" stroke="#000" stroke-width="1.0"/>
<text x="262.0" y="502.9" class="ser">200</text>
<text x="286.3" y="503.3" class="an">GeV</text>
<text x="154.2" y="519.2" class="an" style="font-size:13.82px">PHENIX Run 4 + Run <tspan class="one">1</tspan><tspan class="one">1</tspan></text>
<text x="321.2" y="306.9" class="pl">(d)</text>
<text x="165.2" y="556.5" class="an">p</text><text x="171.0" y="559.5" class="sub2">T</text><text x="171.5" y="550.6" class="sup">e</text><text x="184.5" y="556.5" class="an">[GeV/c]</text>
<g transform="translate(14.5,476.0) rotate(-90)"><text x="-0.46" y="0" class="yl">b</text><line x1="9.3" y1="-4.8" x2="22.7" y2="-4.8" stroke="#1a1a1a" stroke-width="1.05"/><path d="M19.400000000000002,-9.399999999999999 Q21.7,-6.0 23.3,-4.8 Q21.7,-3.5999999999999996 19.400000000000002,-0.20000000000000018" fill="none" stroke="#000" stroke-width="1.15"/><text x="25.81" y="0" class="yl">e</text><line x1="34.6" y1="3.4" x2="40.6" y2="-13.0" stroke="#000" stroke-width="1.3"/><text x="48.64" y="0" class="yl">b</text><line x1="58.5" y1="-4.8" x2="72.60000000000001" y2="-4.8" stroke="#1a1a1a" stroke-width="1.05"/><path d="M69.3,-9.399999999999999 Q71.60000000000001,-6.0 73.2,-4.8 Q71.60000000000001,-3.5999999999999996 69.3,-0.20000000000000018" fill="none" stroke="#000" stroke-width="1.15"/><text x="74.31" y="0" class="yl">e</text><line x1="86.6" y1="-4.7" x2="97.4" y2="-4.7" stroke="#000" stroke-width="1.2"/><line x1="92.0" y1="-10.4" x2="92.0" y2="1.0" stroke="#000" stroke-width="1.2"/><text x="99.31" y="0" class="yl">c</text><line x1="108.3" y1="-4.8" x2="122.4" y2="-4.8" stroke="#1a1a1a" stroke-width="1.05"/><path d="M119.1,-9.399999999999999 Q121.4,-6.0 123.0,-4.8 Q121.4,-3.5999999999999996 119.1,-0.20000000000000018" fill="none" stroke="#000" stroke-width="1.15"/><text x="124.31" y="0" class="yl">e</text></g><path d="M0.9,342.9 Q9.7,334.9 18.5,342.9" fill="none" stroke="#000" stroke-width="1.25"/><path d="M1.4,428.2 Q9.9,436.4 18.5,428.2" fill="none" stroke="#000" stroke-width="1.25"/>
<path d="M27.93,59.20 L26.70,59.20 L26.70,51.36 Q26.26,51.78 25.54,52.21 Q24.81,52.63 24.24,52.84 L24.24,51.65 Q25.27,51.17 26.04,50.48 Q26.82,49.79 27.14,49.14 L27.93,49.14 Z" fill="#000" stroke="#000" stroke-width="0.22"/><path d="M27.93,22.10 L26.70,22.10 L26.70,14.26 Q26.26,14.68 25.54,15.11 Q24.81,15.53 24.24,15.74 L24.24,14.55 Q25.27,14.07 26.04,13.38 Q26.82,12.69 27.14,12.04 L27.93,12.04 Z" fill="#000" stroke="#000" stroke-width="0.22"/><path d="M45.22,253.70 L43.99,253.70 L43.99,245.86 Q43.54,246.28 42.82,246.71 Q42.10,247.13 41.53,247.34 L41.53,246.15 Q42.56,245.67 43.33,244.98 Q44.10,244.29 44.42,243.64 L45.22,243.64 Z" fill="#000" stroke="#000" stroke-width="0.22"/><path d="M123.69,59.41 L122.82,59.41 L122.82,53.92 Q122.51,54.22 122.01,54.51 Q121.50,54.81 121.10,54.96 L121.10,54.13 Q121.82,53.79 122.36,53.30 Q122.91,52.82 123.13,52.37 L123.69,52.37 Z" fill="#000" stroke="#000" stroke-width="0.22"/><path d="M296.40,233.20 L295.18,233.20 L295.18,225.46 Q294.74,225.88 294.03,226.30 Q293.32,226.72 292.75,226.92 L292.75,225.75 Q293.77,225.27 294.53,224.59 Q295.30,223.91 295.61,223.27 L296.40,223.27 Z" fill="#000" stroke="#000" stroke-width="0.22"/><path d="M304.08,233.20 L302.87,233.20 L302.87,225.46 Q302.43,225.88 301.72,226.30 Q301.01,226.72 300.44,226.92 L300.44,225.75 Q301.46,225.27 302.22,224.59 Q302.98,223.91 303.30,223.27 L304.08,223.27 Z" fill="#000" stroke="#000" stroke-width="0.22"/><path d="M27.93,345.20 L26.70,345.20 L26.70,337.36 Q26.26,337.78 25.54,338.21 Q24.81,338.63 24.24,338.84 L24.24,337.65 Q25.27,337.17 26.04,336.48 Q26.82,335.79 27.14,335.14 L27.93,335.14 Z" fill="#000" stroke="#000" stroke-width="0.22"/><path d="M27.93,308.10 L26.70,308.10 L26.70,300.26 Q26.26,300.68 25.54,301.11 Q24.81,301.53 24.24,301.74 L24.24,300.55 Q25.27,300.07 26.04,299.38 Q26.82,298.69 27.14,298.04 L27.93,298.04 Z" fill="#000" stroke="#000" stroke-width="0.22"/><path d="M45.22,539.70 L43.99,539.70 L43.99,531.86 Q43.54,532.28 42.82,532.71 Q42.10,533.13 41.53,533.34 L41.53,532.15 Q42.56,531.67 43.33,530.98 Q44.10,530.29 44.42,529.64 L45.22,529.64 Z" fill="#000" stroke="#000" stroke-width="0.22"/><path d="M296.40,519.20 L295.18,519.20 L295.18,511.46 Q294.74,511.88 294.03,512.30 Q293.32,512.72 292.75,512.92 L292.75,511.75 Q293.77,511.27 294.53,510.59 Q295.30,509.91 295.61,509.27 L296.40,509.27 Z" fill="#000" stroke="#000" stroke-width="0.22"/><path d="M304.08,519.20 L302.87,519.20 L302.87,511.46 Q302.43,511.88 301.72,512.30 Q301.01,512.72 300.44,512.92 L300.44,511.75 Q301.46,511.27 302.22,510.59 Q302.98,509.91 303.30,509.27 L304.08,509.27 Z" fill="#000" stroke="#000" stroke-width="0.22"/>
</svg>
</body></html>
